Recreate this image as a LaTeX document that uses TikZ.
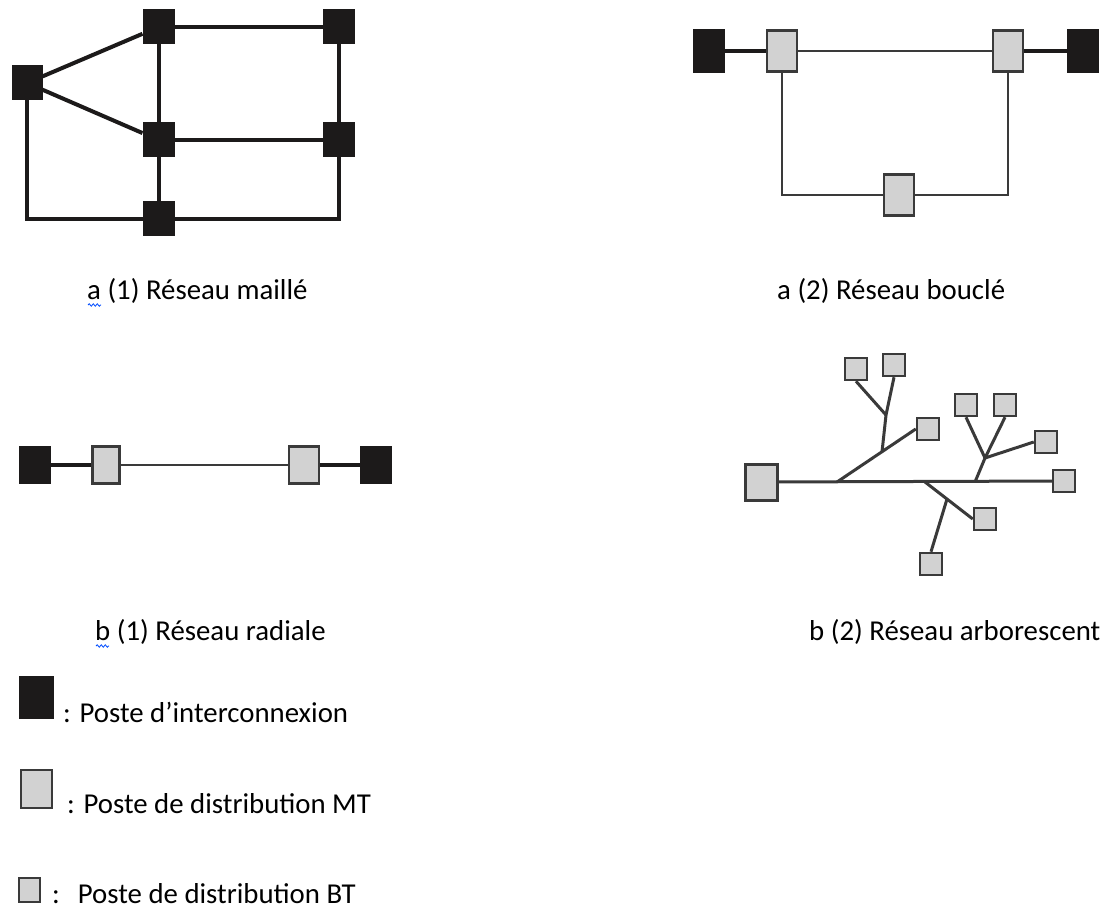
\documentclass[tikz,border=0pt]{standalone}
\usepackage{fontspec}
\setmainfont{Carlito}
\usepackage{tikz}
\usetikzlibrary{decorations.pathmorphing}

\definecolor{poste}{HTML}{1C1A1A}
\definecolor{gris}{HTML}{D2D2D2}
\definecolor{bord}{HTML}{3A3A3A}

\begin{document}
\begin{tikzpicture}[x=1pt,y=-1pt,
    interco/.style={draw=poste,fill=poste,line width=1pt,inner sep=0pt},
    postemt/.style={draw=bord,fill=gris,line width=2.5pt,inner sep=0pt},
    postebt/.style={draw=bord,fill=gris,line width=2.5pt,inner sep=0pt,minimum width=22pt,minimum height=22pt},
    taille/.style 2 args={minimum width=#1pt,minimum height=#2pt},
    fort/.style={line width=4pt,draw=poste},
    fin/.style={line width=2.5pt,draw=bord},
    branche/.style={line width=3pt,draw=bord},
    legende/.style={anchor=base west,inner sep=0pt,font=\fontsize{28.8}{34}\selectfont},
    souligne/.style={blue!70!cyan,line width=0.8pt,decorate,decoration={snake,amplitude=1.2pt,segment length=4pt}}]

    \fill[white] (0,0) rectangle (1105,909);
    \useasboundingbox (0,0) rectangle (1105,909);

    % a (1) reseau maille
    \node[interco,taille={30}{34}] (gauche) at (27,83) {};
    \node[interco,taille={31}{34}] (hautm) at (158.5,27) {};
    \node[interco,taille={31}{34}] (hautd) at (338.5,27) {};
    \node[interco,taille={31}{34}] (milieu) at (158.5,140) {};
    \node[interco,taille={31}{34}] (milieud) at (338.5,140) {};
    \node[interco,taille={31}{34}] (bas) at (158.5,219) {};

    \draw[fort] (gauche) -- (hautm);
    \draw[fort] (gauche) -- (milieu);
    \draw[fort] (gauche) |- (bas);
    \draw[fort] (bas) -| (milieud);
    \draw[fort] (hautm) -- (hautd);
    \draw[fort] (hautm) -- (milieu);
    \draw[fort] (milieu) -- (bas);
    \draw[fort] (milieu) -- (milieud);
    \draw[fort] (hautd) -- (milieud);

    % a (2) reseau boucle
    \node[interco,taille={31}{43}] (bg) at (709,51) {};
    \node[postemt,taille={30}{41}] (mtg) at (782,51) {};
    \node[postemt,taille={30}{41}] (mtd) at (1008,51) {};
    \node[interco,taille={31}{43}] (bd) at (1083,51) {};
    \node[postemt,taille={30}{41}] (mtb) at (899,195) {};

    \draw[fort] (bg) -- (mtg);
    \draw[fin] (mtg) -- (mtd);
    \draw[fort] (mtd) -- (bd);
    \draw[fin] (mtg) |- (mtb);
    \draw[fin] (mtd) |- (mtb);

    % b (1) reseau radiale
    \node[interco,taille={31}{37}] (rg) at (35,465) {};
    \node[postemt,taille={27}{37}] (rmtg) at (106,465) {};
    \node[postemt,taille={30}{37}] (rmtd) at (304,465) {};
    \node[interco,taille={31}{37}] (rd) at (376,465) {};

    \draw[fort] (rg) -- (rmtg);
    \draw[fin] (rmtg) -- (rmtd);
    \draw[fort] (rmtd) -- (rd);

    % b (2) reseau arborescent
    \node[postemt,line width=3pt,taille={32}{36}] (racine) at (761,482) {};
    \node[postebt] (f0) at (1064,481) {};
    \node[postebt] (f1) at (856,369) {};
    \node[postebt] (f2) at (894,365) {};
    \node[postebt] (f3) at (928,429) {};
    \node[postebt] (f4) at (966,405) {};
    \node[postebt] (f5) at (1005,405) {};
    \node[postebt] (f6) at (1046,442) {};
    \node[postebt] (f7) at (985,519) {};
    \node[postebt] (f8) at (931,564) {};

    \coordinate (n1) at (837,482);
    \coordinate (n2) at (882,452);
    \coordinate (n3) at (886,415);
    \coordinate (n4) at (975,482);
    \coordinate (n5) at (985,458);
    \coordinate (n6) at (925,482);
    \coordinate (n7) at (947,499);

    \draw[branche] (racine) -- (f0);
    \draw[branche] (n1) -- (f3.west);
    \draw[branche] (n2) -- (n3);
    \draw[branche] (n3) -- (f1.south);
    \draw[branche] (n3) -- (f2.south);
    \draw[branche] (n4) -- (n5);
    \draw[branche] (n5) -- (f4.south);
    \draw[branche] (n5) -- (f5.south);
    \draw[branche] (n5) -- (f6.west);
    \draw[branche] (n6) -- (f7.west);
    \draw[branche] (n7) -- (f8.north);

    % titres
    \node[legende] (ta1) at (87,299) {a (1) Réseau maillé};
    \node[legende] (ta2) at (777,299) {a (2) Réseau bouclé};
    \node[legende] (tb1) at (95,640) {b (1) Réseau radiale};
    \node[legende] (tb2) at (809,640) {b (2) Réseau arborescent};
    \draw[souligne] (ta1.base west) ++(1,6) -- ++(13,0);
    \draw[souligne] (tb1.base west) ++(1,6) -- ++(13,0);

    % legende
    \node[interco,taille={34}{42}] (lpi) at (36,697) {};
    \node[postemt,line width=2pt,taille={31}{38}] (lmt) at (36,789) {};
    \node[postemt,line width=2pt,taille={21}{24}] (lbt) at (29,890) {};
    \node[legende] (tpi) at (63,722) {: Poste d’interconnexion};
    \node[legende] (tmt) at (67,813) {: Poste de distribution MT};
    \node[legende] (tbt) at (52,903) {:\hspace{18pt}Poste de distribution BT};

\end{tikzpicture}
\end{document}
